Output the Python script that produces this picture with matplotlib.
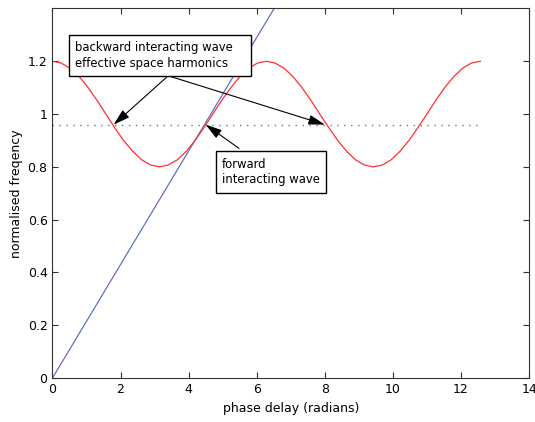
import numpy as np
import matplotlib.pyplot as plt

# dispersion curve
red_x = [0, 0.26, 0.52, 0.79, 1.05, 1.31, 1.57, 1.83, 2.09, 2.36, 2.62, 2.88,
         3.14, 3.40, 3.67, 3.93, 4.19, 4.45, 4.71, 4.97, 5.24, 5.50, 5.76,
         6.02, 6.28, 6.54, 6.81, 7.07, 7.33, 7.59, 7.85, 8.12, 8.38, 8.64,
         8.90, 9.16, 9.42, 9.69, 9.95, 10.21, 10.47, 10.73, 11.00, 11.26,
         11.52, 11.78, 12.04, 12.30, 12.57]
red_y = [1.2, 1.193, 1.173, 1.141, 1.1, 1.052, 1.0, 0.948, 0.9, 0.859, 0.827,
         0.807, 0.8, 0.807, 0.827, 0.859, 0.9, 0.948, 1.0, 1.052, 1.1, 1.141,
         1.173, 1.193, 1.2, 1.193, 1.173, 1.141, 1.1, 1.052, 1.0, 0.948, 0.9,
         0.859, 0.827, 0.807, 0.8, 0.807, 0.827, 0.859, 0.9, 0.948, 1.0,
         1.052, 1.1, 1.141, 1.173, 1.193, 1.2]

# beam line
blue_x = [0, 1, 2, 3, 4, 5, 6, 7]
blue_y = [0, 0.215, 0.43, 0.645, 0.86, 1.075, 1.29, 1.505]

# operating frequency
level_x = [0, 12.57]
level_y = [0.96, 0.96]

fig = plt.figure(figsize=(5.35, 4.22), dpi=100)
ax = fig.add_axes([0.098, 0.104, 0.891, 0.876])

ax.plot(blue_x, blue_y, color='#5a72c8', lw=0.9)
ax.plot(red_x, red_y, color='#ff3030', lw=0.9)
ax.plot(level_x, level_y, ls=(0, (1, 4)), color='#2f8f7f', lw=1)

ax.set_xlim(0, 14)
ax.set_ylim(0, 1.4)
ax.set_xticks(np.arange(0, 15, 2))
ax.set_yticks([0, 0.2, 0.4, 0.6, 0.8, 1, 1.2])
ax.set_yticklabels(['0', '0.2', '0.4', '0.6', '0.8', '1', '1.2'])
ax.tick_params(direction='in', top=True, right=True, length=4, labelsize=9,
               colors='#333333', labelcolor='black')
ax.set_xlabel('phase delay (radians)', fontsize=9, labelpad=4)
ax.set_ylabel('normalised freqency', fontsize=9, labelpad=3)
for s in ax.spines.values():
    s.set_color('#333333')

arrow = dict(arrowstyle='-|>,head_length=1.0,head_width=0.3', color='black',
             lw=0.8, shrinkA=0, shrinkB=0)
box = dict(boxstyle='square,pad=0.55', fc='white', ec='black', lw=1)

ax.annotate('', xy=(1.8, 0.96), xytext=(3.4, 1.145), xycoords='data',
            arrowprops=arrow)
ax.annotate('', xy=(8.0, 0.96), xytext=(3.4, 1.145), xycoords='data',
            arrowprops=arrow)
ax.annotate('', xy=(4.5, 0.96), xytext=(5.48, 0.87), xycoords='data',
            arrowprops=arrow)

ax.text(0.67, 1.222, 'backward interacting wave   \neffective space harmonics',
        fontsize=8.4, va='center', ha='left', bbox=box, linespacing=1.25)
ax.text(4.98, 0.78, 'forward\ninteracting wave', fontsize=8.4, va='center',
        ha='left', bbox=box, linespacing=1.25)

fig.savefig('out.png', dpi=100)
